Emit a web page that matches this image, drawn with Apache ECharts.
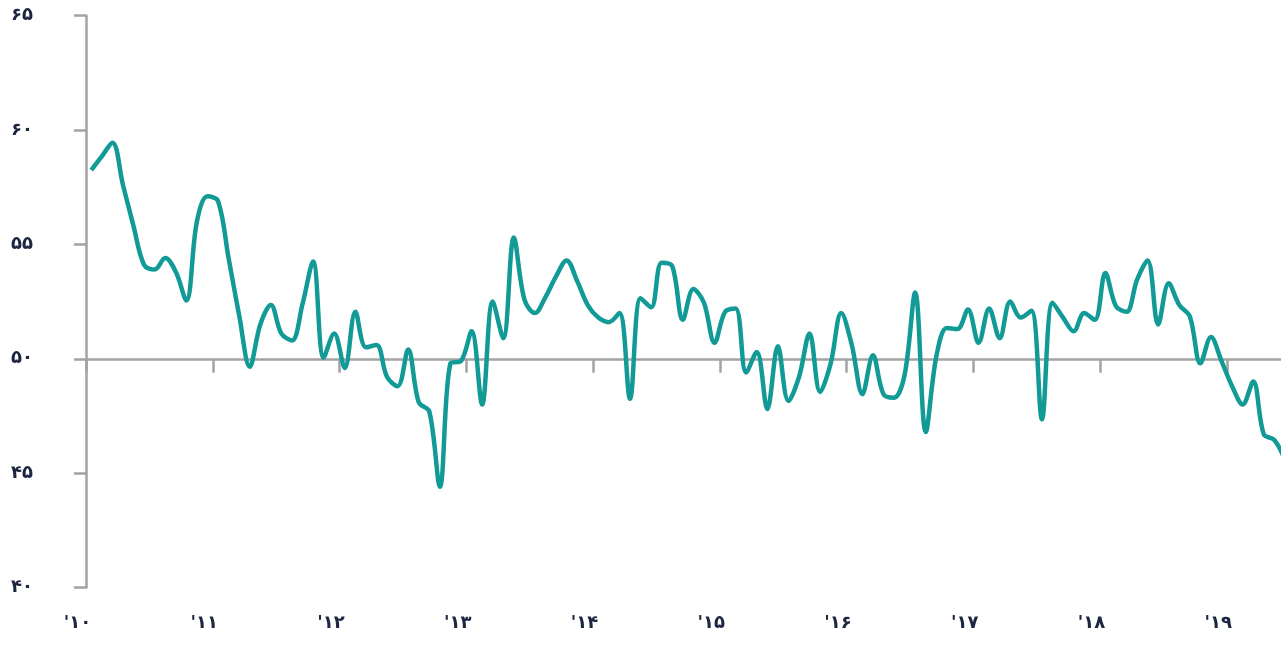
<!DOCTYPE html>
<html>
<head>
<meta charset="utf-8">
<script src="https://cdn.jsdelivr.net/npm/echarts@6/dist/echarts.min.js"></script>
<style>
html,body{margin:0;padding:0;background:#fff;overflow:hidden;}
#chart{width:1300px;height:650px;}
</style>
</head>
<body>
<div id="chart"></div>
<script>
// Year tick labels (Persian digits)
var yearLabels = ["'۱۰", "'۱۱", "'۱۲", "'۱۳", "'۱۴", "'۱۵", "'۱۶", "'۱۷", "'۱۸", "'۱۹"];
// Months shown per year in the data (Jan 2010 .. Jun 2019)
var monthsPerYear = [12, 12, 12, 12, 12, 12, 12, 12, 12, 6];
// Y tick values and labels
var yTicks = [40, 45, 50, 55, 60, 65];
var yTickLabels = ['۴۰', '۴۵', '۵۰', '۵۵', '۶۰', '۶۵'];
// Monthly index values
var values = [
  58.25, 58.85, 59.45, 57.6, 55.8, 54.1, 53.9, 54.4, 53.8, 52.55, 56.0, 57.1,
  56.9, 54.4, 51.9, 49.65, 51.5, 52.35, 51.1, 50.8, 52.4, 54.25, 50.05, 51.1,
  49.6, 52.05, 50.5, 50.6, 49.2, 48.8, 50.4, 48.1, 47.7, 44.4, 49.8, 49.9,
  51.2, 48.0, 52.5, 50.9, 55.3, 52.6, 52.0, 52.7, 53.6, 54.3, 53.4, 52.35,
  51.8, 51.6, 52.0, 48.25, 52.65, 52.25, 54.2, 54.05, 51.7, 53.05, 52.45, 50.7,
  52.05, 52.2, 49.4, 50.3, 47.8, 50.55, 48.15, 49.2, 51.1, 48.55, 49.8, 52.0,
  50.6, 48.45, 50.15, 48.45, 48.3, 49.3, 52.9, 46.8, 50.1, 51.35, 51.3, 52.15,
  50.7, 52.2, 50.9, 52.5, 51.8, 52.1, 47.35, 52.45, 51.8, 51.2, 52.0, 51.7,
  53.75, 52.3, 52.05, 53.45, 54.3, 51.5, 53.3, 52.35, 51.85, 49.8, 50.95, 49.9,
  48.8, 48.0, 49.0, 46.7, 46.45, 45.6
];

var categories = [];
for (var y = 0; y < yearLabels.length; y++) {
  for (var m = 0; m < monthsPerYear[y]; m++) {
    categories.push(yearLabels[y] + '|' + (m + 1));
  }
}

var axisGrey = '#a3a3a3';
var labelColor = '#1d2640';
var chart = echarts.init(document.getElementById('chart'), null, {renderer: 'canvas'});

var gridTop = 15.7;
var unitPx = 22.87;
var gridHeight = (yTicks[yTicks.length - 1] - yTicks[0]) * unitPx;
var gridBottomPx = gridTop + gridHeight;
var axisYpx = gridTop + (65 - 50) * unitPx;
var monthPx = 10.563;

chart.setOption({
  animation: false,
  backgroundColor: '#ffffff',
  grid: {
    left: 86,
    top: gridTop,
    width: monthPx * categories.length,
    height: gridHeight,
    containLabel: false,
    outerBoundsMode: 'none'
  },
  xAxis: {
    type: 'category',
    data: categories,
    boundaryGap: true,
    position: 'bottom',
    offset: -(gridBottomPx - axisYpx),
    axisLine: {show: true, lineStyle: {color: axisGrey, width: 2.5}},
    axisTick: {show: true, interval: 11, length: 14, inside: false, lineStyle: {color: axisGrey, width: 2.5}},
    axisLabel: {
      show: true,
      interval: 11,
      align: 'right',
      margin: 256,
      color: labelColor,
      fontFamily: 'DejaVu Sans',
      fontWeight: 'bold',
      fontSize: 18,
      formatter: function (v) { return v.split('|')[0]; }
    },
    splitLine: {show: false}
  },
  yAxis: {
    type: 'value',
    min: yTicks[0],
    max: yTicks[yTicks.length - 1],
    interval: 5,
    axisLine: {show: true, lineStyle: {color: axisGrey, width: 2.5}},
    axisTick: {show: true, length: 12, lineStyle: {color: axisGrey, width: 2.5}},
    axisLabel: {
      margin: 53,
      color: labelColor,
      fontFamily: 'DejaVu Sans',
      fontWeight: 'bold',
      fontSize: 18,
      formatter: function (v) {
        var i = yTicks.indexOf(v);
        return i >= 0 ? yTickLabels[i] : '';
      }
    },
    splitLine: {show: false}
  },
  series: [{
    type: 'line',
    data: values,
    smooth: 0.35,
    symbol: 'none',
    clip: true,
    lineStyle: {color: '#129a97', width: 4.5},
    z: 3
  }]
});
</script>
</body>
</html>
